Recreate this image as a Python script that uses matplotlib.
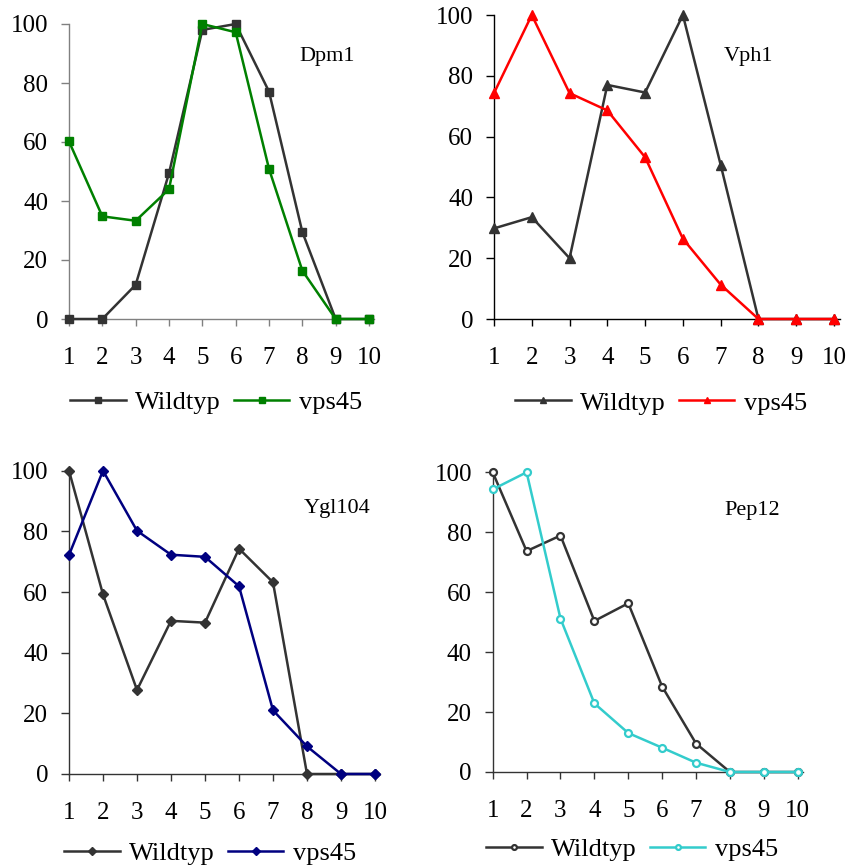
import matplotlib
matplotlib.use("Agg")
import matplotlib.pyplot as plt

plt.rcParams['font.family'] = ['Liberation Serif', 'DejaVu Serif']

fractions = [1, 2, 3, 4, 5, 6, 7, 8, 9, 10]
y_ticks = [0, 20, 40, 60, 80, 100]
series_names = ["Wildtyp", "vps45"]

dpm1_wt = [0, 0, 11.6, 49.4, 98, 100, 77.1, 29.5, 0, 0]
dpm1_vps45 = [60.2, 34.8, 33.3, 44, 100, 97.2, 50.9, 16.4, 0, 0]

vph1_wt = [29.8, 33.5, 20, 77, 74.5, 100, 50.7, 0, 0, 0]
vph1_vps45 = [74.3, 100, 74.3, 68.6, 53.2, 26.4, 11.3, 0, 0, 0]

ygl104_wt = [100, 59.2, 27.7, 50.5, 49.9, 74.3, 63.2, 0, 0, 0]
ygl104_vps45 = [72.2, 100, 80.2, 72.3, 71.6, 61.9, 21, 9.1, 0, 0]

pep12_wt = [100, 73.7, 78.9, 50.4, 56.3, 28.5, 9.5, 0, 0, 0]
pep12_vps45 = [94.3, 100, 51.2, 22.9, 13, 8.1, 3.1, 0, 0, 0]

W, H = 847, 866
fig = plt.figure(figsize=(W / 100, H / 100), dpi=100)

XMAX = 10.15


def make_axes(x1_px, x10_px, ytop_px, ybot_px):
    per_unit = (x10_px - x1_px) / 9.0
    right_px = x1_px + (XMAX - 1) * per_unit
    return fig.add_axes([x1_px / W, 1 - ybot_px / H,
                         (right_px - x1_px) / W, (ybot_px - ytop_px) / H])


panels = [
    dict(rect=(69, 369, 24, 319), name="Dpm1", data=(dpm1_wt, dpm1_vps45),
         color="#008000", marker="s", ms=6.2, spine="#808080",
         label_xy=(327, 57), leg_xy=(216, 402)),
    dict(rect=(494, 834, 15, 319), name="Vph1", data=(vph1_wt, vph1_vps45),
         color="#ff0000", marker="^", ms=7, spine="#000000",
         label_xy=(748, 57), leg_xy=(661, 403)),
    dict(rect=(69, 375, 470.7, 774), name="Ygl104", data=(ygl104_wt, ygl104_vps45),
         color="#000080", marker="D", ms=5.2, spine="#333333",
         label_xy=(337, 509), leg_xy=(210, 853)),
    dict(rect=(492.7, 797.7, 472.3, 772), name="Pep12", data=(pep12_wt, pep12_vps45),
         color="#33cccc", marker="o", ms=5, spine="#333333",
         label_xy=(752, 510), leg_xy=(632, 849)),
]

for p in panels:
    ax = make_axes(*p["rect"])
    wt, mut = p["data"]
    common = dict(marker=p["marker"], markersize=p["ms"], linewidth=1.8,
                  clip_on=False)
    if p["marker"] == "o":
        ax.plot(fractions, wt, color="#333333", markerfacecolor="white",
                markeredgewidth=1.6, label=series_names[0], zorder=3, **common)
        ax.plot(fractions, mut, color=p["color"], markerfacecolor="white",
                markeredgewidth=1.6, label=series_names[1], zorder=4, **common)
    else:
        ax.plot(fractions, wt, color="#333333", label=series_names[0],
                zorder=3, **common)
        ax.plot(fractions, mut, color=p["color"], label=series_names[1],
                zorder=4, **common)

    ax.set_xlim(1, XMAX)
    ax.set_ylim(0, 100)
    ax.set_xticks(fractions)
    ax.set_yticks(y_ticks)
    for side in ("top", "right"):
        ax.spines[side].set_visible(False)
    for side in ("left", "bottom"):
        ax.spines[side].set_color(p["spine"])
        ax.spines[side].set_linewidth(1.0)
    ax.tick_params(axis="x", direction="out", length=5, width=1.0,
                   color=p["spine"], pad=15, labelsize=18)
    ax.tick_params(axis="y", direction="out", length=6, width=1.0,
                   color=p["spine"], pad=9, labelsize=18)

    lx, ly = p["label_xy"]
    fig.text(lx / W, 1 - ly / H, p["name"], fontsize=16,
             ha="center", va="center")

    ax.legend(loc="center", ncol=2, frameon=False, fontsize=19,
              handlelength=2.1, handletextpad=0.35, columnspacing=0.5,
              markerscale=0.7,
              bbox_to_anchor=(p["leg_xy"][0] / W, 1 - p["leg_xy"][1] / H),
              bbox_transform=fig.transFigure, borderpad=0)

fig.savefig("out.png", dpi=100)
